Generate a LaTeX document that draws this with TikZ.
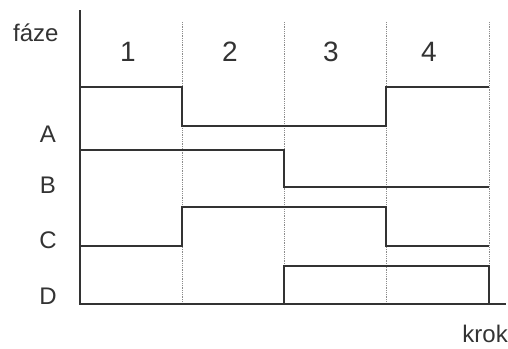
\documentclass[tikz,border=0pt]{standalone}
\usepackage{fontspec}
\setmainfont{Liberation Sans}
\begin{document}
\begin{tikzpicture}[x=1pt,y=-1pt,
  axisline/.style={line width=2.8pt,draw=black!80},
  sigline/.style={line width=2.6pt,draw=black!80,line join=miter},
  thinsig/.style={line width=1.8pt,draw=black!80},
  gridline/.style={line width=0.8pt,draw=black!45,densely dotted},
  lbl/.style={font=\fontsize{24}{24}\selectfont,text=black!80,inner sep=0pt},
  num/.style={font=\fontsize{28}{28}\selectfont,text=black!80,inner sep=0pt}]
\useasboundingbox (0,0) rectangle (508,348);
% grid
\foreach \x/\n in {182/g1,284/g2,386/g3,489/g4}{
  \coordinate (\n t) at (\x,22);
  \coordinate (\n b) at (\x,304);
  \draw[gridline] (\n t) -- (\n b);
}
% axes
\coordinate (o) at (80,304);
\coordinate (yt) at (80,10);
\coordinate (xe) at (506,304);
\draw[axisline] (yt) -- (o) -- (xe);
% labels
\node[lbl,anchor=west] (faze) at (13,33) {fáze};
\node[lbl] (lA) at (48,134) {A};
\node[lbl] (lB) at (48,185) {B};
\node[lbl] (lC) at (48,240) {C};
\node[lbl] (lD) at (48,296) {D};
\node[lbl,anchor=east] (krok) at (508,334) {krok};
\node[num] (p1) at (128,52) {1};
\node[num] (p2) at (230,52) {2};
\node[num] (p3) at (331,52) {3};
\node[num] (p4) at (429,52) {4};
% signals
\draw[sigline] (81,87) -- (182,87) -- (182,126) -- (386,126) -- (386,87) -- (489,87);
\draw[sigline] (81,150) -- (284,150) -- (284,187) -- (489,187);
\draw[sigline] (81,246) -- (182,246) -- (182,207) -- (386,207) -- (386,246) -- (489,246);
\draw[thinsig] (284,304) -- (284,266) -- (489,266) -- (489,304);
\end{tikzpicture}
\end{document}
